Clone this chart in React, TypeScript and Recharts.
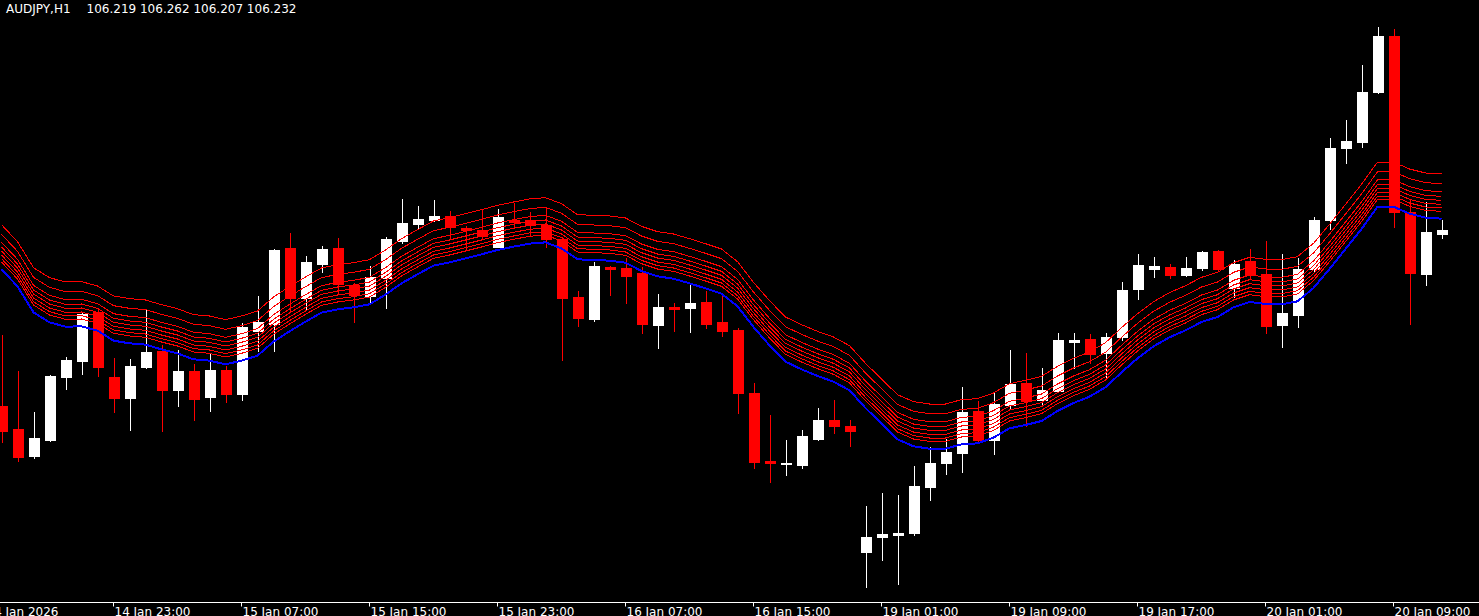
import React from 'react';
import { ComposedChart, Bar, Line, XAxis, YAxis } from 'recharts';

// ---- Data (AUDJPY, H1) ----
const symbolText = 'AUDJPY,H1';
const lastBarText = '106.219 106.262 106.207 106.232';

const opens = [
  105.704, 105.635, 105.554, 105.602, 105.791, 105.839, 105.986, 105.791, 105.728, 105.821,
  105.869, 105.752, 105.809, 105.731, 105.812, 105.740, 105.929, 105.950, 106.178, 106.028,
  106.130, 106.178, 106.067, 106.034, 106.088, 106.199, 106.250, 106.262, 106.274, 106.237,
  106.232, 106.181, 106.262, 106.262, 106.247, 106.205, 106.031, 105.965, 106.121, 106.118,
  106.103, 105.947, 106.001, 105.998, 106.016, 105.956, 105.932, 105.743, 105.539, 105.530,
  105.527, 105.605, 105.662, 105.644, 105.266, 105.312, 105.317, 105.323, 105.461, 105.533,
  105.563, 105.689, 105.602, 105.707, 105.773, 105.722, 105.749, 105.896, 105.905, 105.863,
  105.911, 106.055, 106.115, 106.121, 106.097, 106.118, 106.169, 106.058, 106.139, 106.100,
  105.947, 105.977, 106.115, 106.262, 106.478, 106.496, 106.646, 106.814, 106.286, 106.100,
  106.219,
];

const highs = [
  105.917, 105.809, 105.686, 105.797, 105.851, 105.983, 105.998, 105.848, 105.845, 105.995,
  105.887, 105.872, 105.830, 105.860, 105.824, 105.953, 106.034, 106.175, 106.223, 106.154,
  106.184, 106.208, 106.073, 106.124, 106.211, 106.325, 106.304, 106.322, 106.289, 106.244,
  106.295, 106.295, 106.313, 106.286, 106.298, 106.211, 106.049, 106.136, 106.124, 106.148,
  106.121, 106.040, 106.013, 106.067, 106.049, 106.034, 105.938, 105.773, 105.677, 105.602,
  105.632, 105.698, 105.722, 105.662, 105.404, 105.443, 105.437, 105.524, 105.581, 105.605,
  105.761, 105.719, 105.746, 105.872, 105.863, 105.818, 105.923, 105.923, 105.920, 105.923,
  106.076, 106.160, 106.151, 106.130, 106.151, 106.169, 106.172, 106.142, 106.175, 106.199,
  106.160, 106.148, 106.271, 106.508, 106.562, 106.727, 106.841, 106.835, 106.322, 106.316,
  106.262,
];

const lows = [
  105.596, 105.539, 105.548, 105.599, 105.755, 105.800, 105.794, 105.686, 105.632, 105.818,
  105.629, 105.704, 105.662, 105.689, 105.716, 105.722, 105.869, 105.869, 105.986, 105.995,
  106.106, 106.043, 105.956, 106.010, 105.998, 106.193, 106.235, 106.259, 106.208, 106.175,
  106.205, 106.181, 106.241, 106.217, 106.181, 105.842, 105.944, 105.959, 106.037, 106.013,
  105.923, 105.878, 105.929, 105.926, 105.938, 105.914, 105.683, 105.518, 105.476, 105.497,
  105.518, 105.602, 105.623, 105.584, 105.161, 105.242, 105.170, 105.317, 105.422, 105.500,
  105.506, 105.596, 105.560, 105.698, 105.644, 105.710, 105.746, 105.818, 105.833, 105.785,
  105.902, 106.025, 106.091, 106.088, 106.094, 106.112, 106.109, 106.031, 106.088, 105.923,
  105.881, 105.941, 106.106, 106.235, 106.433, 106.481, 106.643, 106.241, 105.950, 106.067,
  106.207,
];

const closes = [
  105.629, 105.551, 105.608, 105.794, 105.842, 105.980, 105.821, 105.728, 105.824, 105.866,
  105.752, 105.809, 105.725, 105.812, 105.740, 105.941, 105.956, 106.172, 106.028, 106.136,
  106.175, 106.070, 106.037, 106.091, 106.205, 106.253, 106.265, 106.274, 106.241, 106.232,
  106.214, 106.271, 106.256, 106.247, 106.205, 106.028, 105.968, 106.124, 106.115, 106.094,
  105.950, 106.001, 105.995, 106.013, 105.950, 105.929, 105.743, 105.536, 105.533, 105.533,
  105.614, 105.662, 105.644, 105.629, 105.311, 105.320, 105.323, 105.464, 105.533, 105.566,
  105.686, 105.602, 105.710, 105.770, 105.719, 105.752, 105.902, 105.902, 105.860, 105.911,
  106.052, 106.127, 106.124, 106.097, 106.118, 106.166, 106.115, 106.130, 106.097, 105.944,
  105.983, 106.115, 106.262, 106.478, 106.499, 106.646, 106.814, 106.286, 106.103, 106.226,
  106.232,
];

// Blue moving average, one value per bar
const maValues = [
  106.114, 106.063, 105.985, 105.955, 105.942, 105.943, 105.930, 105.900, 105.892, 105.888,
  105.874, 105.862, 105.844, 105.840, 105.829, 105.840, 105.855, 105.897, 105.928, 105.957,
  105.984, 105.994, 106.000, 106.009, 106.038, 106.072, 106.099, 106.125, 106.135, 106.147,
  106.159, 106.172, 106.182, 106.191, 106.195, 106.177, 106.144, 106.142, 106.140, 106.134,
  106.109, 106.093, 106.086, 106.072, 106.057, 106.041, 106.003, 105.941, 105.886, 105.837,
  105.814, 105.794, 105.777, 105.751, 105.698, 105.651, 105.604, 105.583, 105.576, 105.576,
  105.589, 105.592, 105.609, 105.637, 105.647, 105.659, 105.689, 105.713, 105.732, 105.760,
  105.805, 105.847, 105.883, 105.910, 105.931, 105.956, 105.971, 106.000, 106.016, 106.010,
  106.009, 106.018, 106.058, 106.115, 106.175, 106.235, 106.302, 106.302, 106.281, 106.269,
  106.266,
];

// Red envelope lines: distance above the blue average (yen)
const envelopeOffsets = [0.022, 0.032, 0.043, 0.055, 0.067, 0.081, 0.105, 0.134];

// Time-scale labels and the bar index each one belongs to
const tickBars = [-1, 7, 15, 23, 31, 39, 47, 55, 63, 71, 79, 87];
const tickLabels = [
  '14 Jan 2026', '14 Jan 23:00', '15 Jan 07:00', '15 Jan 15:00', '15 Jan 23:00', '16 Jan 07:00',
  '16 Jan 15:00', '19 Jan 01:00', '19 Jan 09:00', '19 Jan 17:00', '20 Jan 01:00', '20 Jan 09:00',
];

// visible price window
const priceMax = 106.922;
const priceMin = 105.1145;

// window: one bar hidden off the left edge, chart shift on the right
const leadingSlots = 1;
const trailingSlots = 2;

const rows: any[] = [];
for (let i = -leadingSlots; i < opens.length + trailingSlots; i++) {
  const has = i >= 0 && i < opens.length;
  const row: any = { bar: i };
  if (has) {
    row.range = [lows[i], highs[i]];
    row.open = opens[i];
    row.high = highs[i];
    row.low = lows[i];
    row.close = closes[i];
    row.ma = maValues[i];
    envelopeOffsets.forEach((d, k) => {
      row['env' + k] = maValues[i] + d;
    });
  }
  rows.push(row);
}

const Candle = (props: any) => {
  const { x, y, width, height, payload } = props;
  if (!payload || payload.open == null) return null;
  const top = Math.min(y, y + height);
  const bottom = Math.max(y, y + height);
  const span = payload.high - payload.low;
  const k = span > 0 ? (bottom - top) / span : 0;
  const py = (v: number) => top + (payload.high - v) * k;
  const up = payload.close >= payload.open;
  const color = up ? '#FFFFFF' : '#FF0000';
  const cx = x + width / 2;
  const wickX = Math.floor(cx);
  const hiY = Math.round(py(payload.high));
  const loY = Math.round(py(payload.low));
  const bTop = Math.round(py(Math.max(payload.open, payload.close)));
  const bBot = Math.round(py(Math.min(payload.open, payload.close)));
  return (
    <g>
      <rect x={wickX} y={hiY} width={1} height={Math.max(1, loY - hiY + 1)} fill={color} />
      <rect x={Math.round(x)} y={bTop} width={Math.round(width)} height={Math.max(1, bBot - bTop + 1)} fill={color} />
    </g>
  );
};

const TimeTick = (props: any) => {
  const { x, y, payload } = props;
  const idx = tickBars.indexOf(payload.value);
  if (idx < 0) return null;
  return (
    <text
      x={x + 1}
      y={y + 7}
      textAnchor="start"
      fill="#FFFFFF"
      fontSize={12}
      fontFamily="'DejaVu Sans', Verdana, sans-serif"
    >
      {tickLabels[idx]}
    </text>
  );
};

export default function App() {
  return (
    <div
      style={{
        position: 'absolute',
        left: 0,
        top: 0,
        width: 1479,
        height: 616,
        background: '#000000',
        overflow: 'hidden',
      }}
    >
      <ComposedChart
        width={1479}
        height={616}
        data={rows}
        margin={{ top: 0, right: -2.5, bottom: 0, left: -22.5 }}
        barCategoryGap={0}
      >
        <XAxis
          dataKey="bar"
          type="category"
          ticks={tickBars}
          interval={0}
          height={13.5}
          tickSize={4}
          axisLine={{ stroke: '#FFFFFF' }}
          tickLine={{ stroke: '#FFFFFF' }}
          tick={<TimeTick />}
        />
        <YAxis hide type="number" domain={[priceMin, priceMax]} allowDataOverflow />
        <Bar dataKey="range" barSize={11} shape={<Candle />} isAnimationActive={false} />
        {envelopeOffsets.map((_, k) => (
          <Line
            key={'env' + k}
            dataKey={'env' + k}
            type="linear"
            stroke="#FF0000"
            strokeWidth={1}
            shapeRendering="crispEdges"
            dot={false}
            activeDot={false}
            isAnimationActive={false}
          />
        ))}
        <Line
          dataKey="ma"
          type="linear"
          stroke="#0000FF"
          strokeWidth={2}
          shapeRendering="crispEdges"
          dot={false}
          activeDot={false}
          isAnimationActive={false}
        />
      </ComposedChart>
      <div
        style={{
          position: 'absolute',
          left: 6,
          top: 2,
          fontSize: 12,
          lineHeight: '14px',
          color: '#FFFFFF',
          fontFamily: "'DejaVu Sans', Verdana, sans-serif",
          whiteSpace: 'pre',
        }}
      >
        <span>{symbolText}</span>
        <span style={{ marginLeft: 16 }}>{lastBarText}</span>
      </div>
    </div>
  );
}
